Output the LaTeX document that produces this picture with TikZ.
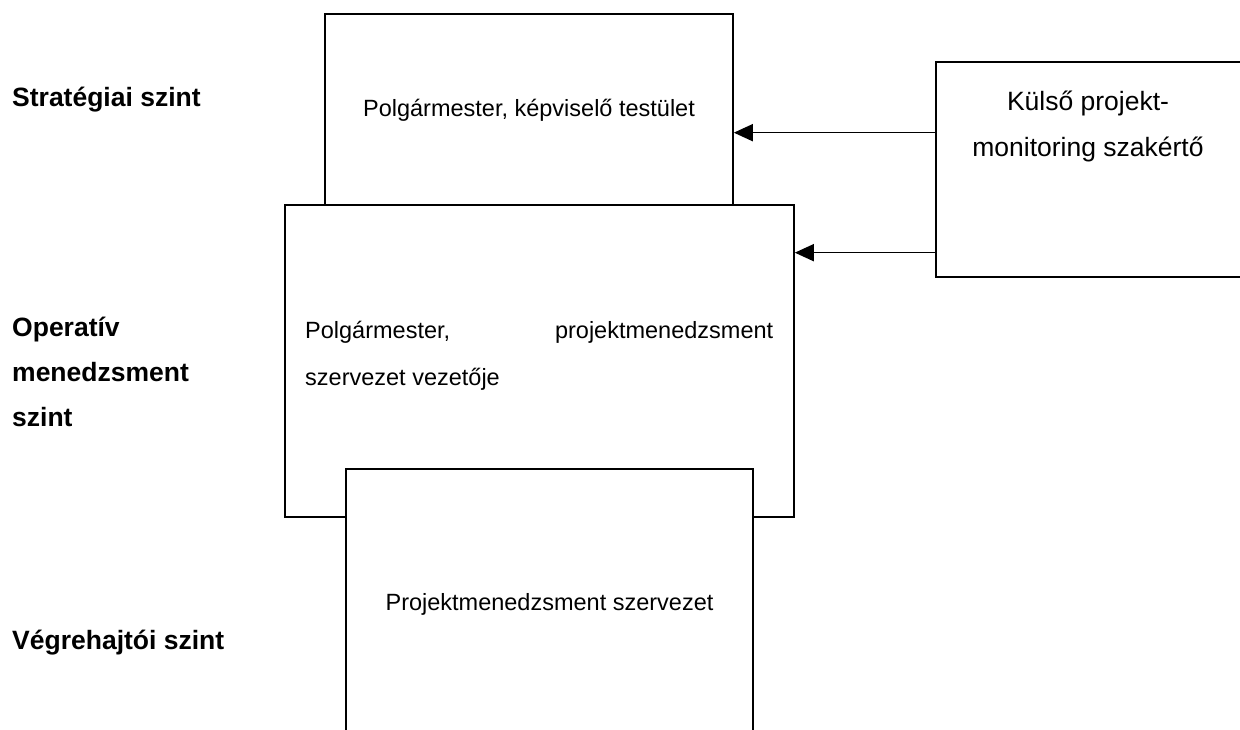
\documentclass[tikz,border=0pt]{standalone}
\usepackage{fontspec}
\setmainfont{Liberation Sans}
\usetikzlibrary{arrows.meta,calc}
\hyphenpenalty=10000
\exhyphenpenalty=10000
\begin{document}
\begin{tikzpicture}[x=1pt,y=-1pt,
  box/.style={draw=black, line width=1.6pt, fill=white, inner sep=0pt},
  lvl/.style={font=\fontsize{26.5}{45}\selectfont\bfseries, align=left, anchor=west, inner sep=0pt},
  boxtext/.style={font=\fontsize{23.5}{47}\selectfont, inner sep=0pt},
  exttext/.style={font=\fontsize{26.5}{46}\selectfont, align=center, inner sep=0pt},
  conn/.style={line width=1.6pt, -{Triangle[length=19pt,width=17pt]}}]
\useasboundingbox (0,0) rectangle (1240,729);
\clip (0,0) rectangle (1240,729);
\fill[white] (0,0) rectangle (1240,729);
% level labels
\node[lvl] (lstrat) at (12,100) {Stratégiai szint};
\node[lvl] (loper) at (12,372) {Operatív\\menedzsment\\szint};
\node[lvl] (lexec) at (12,643) {Végrehajtói szint};
% boxes
\node[box, minimum width=408pt, minimum height=191pt] (strat) at (529,109.5) {};
\node[box, minimum width=509pt, minimum height=312pt] (oper) at (539.5,361) {};
\node[box, minimum width=407pt, minimum height=300pt] (exec) at (549.5,619) {};
\node[box, minimum width=310pt, minimum height=215pt] (ext) at (1091,169.5) {};
% box texts
\node[boxtext] (strattext) at (529,110) {Polgármester, képviselő testület};
\node[boxtext, text width=468pt, align=justify, anchor=north west] (opertext) at (305,321)
  {Polgármester, projektmenedzsment \mbox{szervezet} vezetője};
\node[boxtext] (exectext) at (549.5,604) {Projektmenedzsment szervezet};
\node[exttext] (exttxt) at (1088,126) {Külső projekt-\\monitoring szakértő};
% connectors
\coordinate (a1) at ($(ext.north west)!0.33!(ext.south west)$);
\coordinate (a2) at ($(ext.north west)!0.884!(ext.south west)$);
\draw[conn] (a1) -- (strat.east |- a1);
\draw[conn] (a2) -- (oper.east |- a2);
\end{tikzpicture}
\end{document}
